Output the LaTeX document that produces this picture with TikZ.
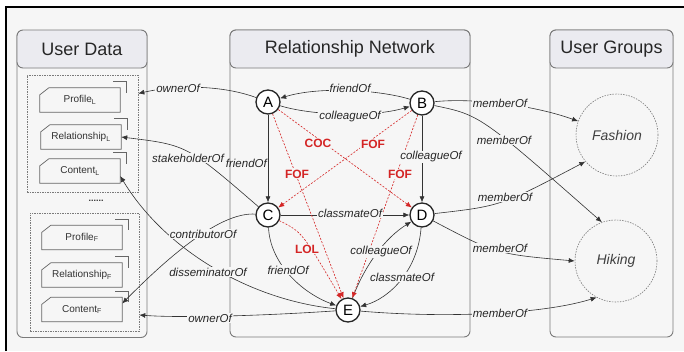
\documentclass[tikz,border=0pt]{standalone}
\usepackage{fontspec}
\setmainfont{Liberation Sans}
\usetikzlibrary{arrows.meta}
\definecolor{bg}{HTML}{F6F6F6}
\definecolor{panelline}{HTML}{7A7A7A}
\definecolor{headfill}{HTML}{EBEBF0}
\definecolor{edgecol}{HTML}{333333}
\definecolor{redcol}{HTML}{D42525}
\definecolor{docgray}{HTML}{666666}
\newcommand\docoutline[1]{%
  \draw[docline] ([yshift=-7pt]#1.north west) -- ([xshift=9pt]#1.north west) -- (#1.north east) -- (#1.south east) -- (#1.south west) -- cycle;
  \draw[docline] ([xshift=-7pt,yshift=6pt]#1.north east) -- ([xshift=6pt,yshift=6pt]#1.north east) -- ([xshift=6pt,yshift=-5pt]#1.north east);}
\newcommand\sbs[1]{\textsubscript{\fontsize{7}{8}\selectfont #1}}
\tikzset{
  panel/.style={draw=panelline, line width=0.9pt, rounded corners=6pt, minimum height=307pt, inner sep=0pt},
  headbox/.style={draw=panelline, line width=0.9pt, fill=headfill, rounded corners=6pt, minimum height=38pt, inner sep=0pt, font=\fontsize{18}{20}\selectfont, text=black!85},
  groupbox/.style={draw=panelline, dash pattern=on 1.5pt off 1pt, line width=0.6pt, inner sep=0pt},
  docnode/.style={minimum width=80pt, minimum height=24pt, inner sep=0pt, font=\fontsize{10}{11}\selectfont, text=black!80},
  docline/.style={draw=docgray, line width=0.7pt},
  circ/.style={circle, draw=black!85, line width=1.3pt, fill=white, minimum size=24pt, inner sep=0pt, font=\fontsize{15}{16}\selectfont},
  grp/.style={circle, draw=panelline, dash pattern=on 1.5pt off 1.2pt, line width=0.6pt, minimum size=82pt, inner sep=0pt, font=\fontsize{14}{16}\selectfont\itshape, text=black!75},
  edge/.style={draw=edgecol, line width=0.6pt, -{Latex[length=6pt,width=5pt]}},
  redge/.style={draw=redcol, line width=0.6pt, dash pattern=on 2pt off 1.5pt, -{Latex[length=6pt,width=5pt]}},
  lbl/.style={fill=bg, inner sep=1pt, font=\fontsize{11.5}{13}\selectfont\itshape, text=black!85},
  rlbl/.style={fill=bg, inner sep=1pt, font=\fontsize{12}{13}\selectfont\bfseries, text=redcol}
}
\begin{document}
\begin{tikzpicture}[x=1pt,y=-1pt]
\useasboundingbox (0,0) rectangle (684,351);
\fill[white] (0,0) rectangle (684,351);
\fill[bg] (6,7) rectangle (684,351);
\draw[black, line width=2pt] (6,351) -- (6,7) -- (684,7);

% panels
\node[panel, minimum width=130pt] (ud) at (82,184) {};
\node[headbox, minimum width=130pt] (udh) at (82,49) {User Data};
\node[panel, minimum width=240pt] (rn) at (350,183.5) {};
\node[headbox, minimum width=240pt] (rnh) at (350,49) {Relationship Network};
\node[panel, minimum width=123pt] (ug) at (611.5,183.5) {};
\node[headbox, minimum width=123pt] (ugh) at (611.5,49) {User Groups};

% user data groups
\node[groupbox, minimum width=111pt, minimum height=117pt] (gl) at (82.5,133.5) {};
\node[groupbox, minimum width=109pt, minimum height=118pt] (gf) at (84.5,272) {};
\node[font=\fontsize{9}{10}\selectfont\bfseries, text=black!80] (dots) at (96,201) {......};

\node[docnode] (pl) at (80,100) {Profile\sbs{L}};
\node[docnode] (rl) at (81,137) {Relationship\sbs{L}};
\node[docnode] (cl) at (80,171) {Content\sbs{L}};
\node[docnode] (pf) at (82,237.5) {Profile\sbs{F}};
\node[docnode] (rf) at (82,275) {Relationship\sbs{F}};
\node[docnode] (cf) at (82,309.5) {Content\sbs{F}};
\docoutline{pl}\docoutline{rl}\docoutline{cl}\docoutline{pf}\docoutline{rf}\docoutline{cf}

% network nodes
\node[circ] (A) at (268,102) {A};
\node[circ] (B) at (422,103) {B};
\node[circ] (C) at (268,215) {C};
\node[circ] (D) at (422,215) {D};
\node[circ] (E) at (348,310) {E};

% groups
\node[grp] (Fa) at (617,135) {Fashion};
\node[grp] (Hi) at (616,261) {Hiking};

% black edges
\draw[edge] (A) .. controls (225,86) and (180,84) .. ([yshift=40pt]gl.east);
\draw[edge] (B) .. controls (380,90) and (320,86) .. (A);
\draw[edge] (A) .. controls (310,115) and (370,118) .. (B);
\draw[edge] (A) -- (C);
\draw[edge] (B) -- (D);
\draw[edge] (C) -- (D);
\draw[edge] (C) .. controls (187,145) .. (rl.east);
\draw[edge] (E) .. controls (250,300) and (165,250) .. ([yshift=-5pt]cl.east);
\draw[edge] (C) .. controls (225,212) and (180,245) .. ([yshift=6pt]cf.east);
\draw[edge] (E) .. controls (260,316) and (180,318) .. ([yshift=-43pt]gf.east);
\draw[edge] (C) .. controls (270,262) and (300,292) .. (E);
\draw[edge] (E) .. controls (365,265) and (385,238) .. (D);
\draw[edge] (D) .. controls (418,270) and (390,298) .. (E);

% membership edges
\draw[edge] (B) .. controls (470,98) and (530,104) .. (Fa);
\draw[edge] (B) .. controls (480,115) .. (Hi.110);
\draw[edge] (D) .. controls (501,206) .. (Fa.220);
\draw[edge] (D) .. controls (496,254) .. (Hi.west);
\draw[edge] (E) .. controls (440,318) and (540,315) .. (Hi.242);

% red edges
\draw[redge] (A) -- (D);
\draw[redge] (A) -- (E);
\draw[redge] (B) -- (C);
\draw[redge] (B) -- (E);
\draw[redge] (C) .. controls (302,232) .. (E);

% labels
\node[lbl] (l1) at (178,88) {ownerOf};
\node[lbl] (l2) at (350,88) {friendOf};
\node[lbl] (l3) at (350,117) {colleagueOf};
\node[lbl, fill=none, anchor=east] (l4) at (268,163) {friendOf};
\node[lbl] (l5) at (431,157) {colleagueOf};
\node[lbl] (l6) at (350,213) {classmateOf};
\node[lbl] (l7) at (188,158) {stakeholderOf};
\node[lbl] (l8) at (203,234) {contributorOf};
\node[lbl] (l9) at (208,272) {disseminatorOf};
\node[lbl] (l10) at (210,318) {ownerOf};
\node[lbl] (l11) at (288,270) {friendOf};
\node[lbl] (l12) at (381,252) {colleagueOf};
\node[lbl] (l13) at (402,277) {classmateOf};
\node[lbl] (m1) at (500,103) {memberOf};
\node[lbl] (m2) at (504,140) {memberOf};
\node[lbl] (m3) at (505,197) {memberOf};
\node[lbl] (m4) at (500,248) {memberOf};
\node[lbl] (m5) at (500,313) {memberOf};
\node[rlbl] (r1) at (318,143) {COC};
\node[rlbl] (r2) at (373,144) {FOF};
\node[rlbl] (r3) at (297,174) {FOF};
\node[rlbl] (r4) at (400,174) {FOF};
\node[rlbl] (r5) at (307,249) {LOL};
\end{tikzpicture}
\end{document}
